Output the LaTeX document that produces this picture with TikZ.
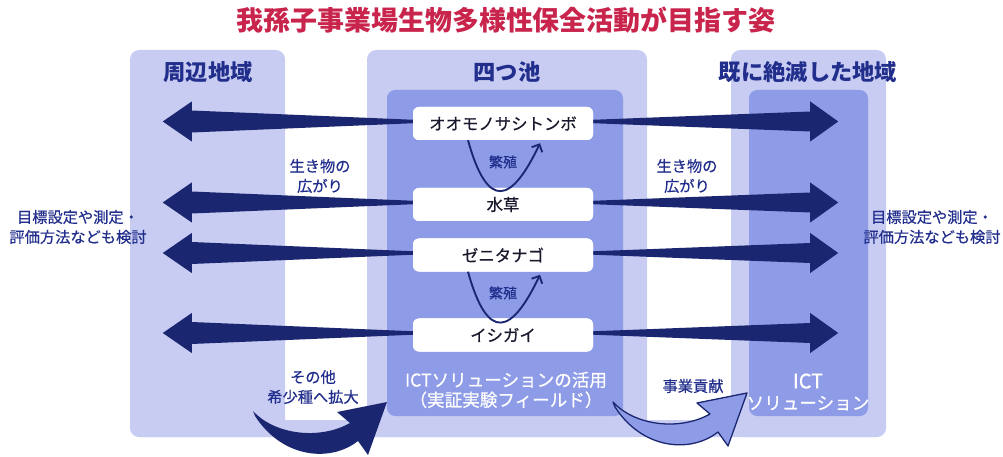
\documentclass[tikz,border=0pt]{standalone}
\usepackage{fontspec}
\setmainfont{Noto Sans CJK JP}
\newfontfamily\jpmed[FakeBold=0.5]{Noto Sans CJK JP}
\usetikzlibrary{arrows.meta,calc}
\definecolor{panel}{RGB}{200,204,242}
\definecolor{inner}{RGB}{142,156,232}
\definecolor{navy}{RGB}{27,38,112}
\definecolor{hdr}{RGB}{33,46,140}
\definecolor{ttl}{RGB}{200,36,76}
\definecolor{ntxt}{RGB}{25,25,45}
\tikzset{
  panelbox/.style={fill=panel, rounded corners=8pt},
  innerbox/.style={fill=inner, rounded corners=7pt},
  species/.style={fill=white, rounded corners=5pt, minimum width=5.4cm, minimum height=0.99cm,
    inner sep=0pt, text=ntxt, font=\jpmed\fontsize{14pt}{16pt}\selectfont},
  header/.style={inner sep=0pt, text=hdr, font=\fontsize{19pt}{22pt}\selectfont\bfseries},
  note/.style={inner sep=0pt, text=hdr, align=center, font=\jpmed\fontsize{13pt}{17pt}\selectfont},
  breed/.style={inner sep=0pt, text=hdr, font=\jpmed\fontsize{12pt}{14pt}\selectfont},
  whitenote/.style={inner sep=0pt, text=white, align=center},
  breedarrow/.style={navy, line width=1.6pt, -{Straight Barb[length=5pt,width=10pt]}},
}
\begin{document}
\begin{tikzpicture}[x=0.03cm,y=-0.03cm]
\useasboundingbox (0,0) rectangle (1003,457);
% title
\node[inner sep=0pt, text=ttl, font=\fontsize{23pt}{26pt}\selectfont\bfseries] (title) at (506,20) {我孫子事業場生物多様性保全活動が目指す姿};
% panels
\path[panelbox] (130,50) rectangle (285,437);
\path[panelbox] (367,50) rectangle (647,437);
\path[panelbox] (731,50) rectangle (886,437);
\path[panelbox] (130,420) rectangle (886,437);
\path[innerbox] (387,90) rectangle (623,416);
\path[innerbox] (749,90) rectangle (868,416);
% headers
\node[header] (h1) at (208,72) {周辺地域};
\node[header] (h2) at (507,72) {四つ池};
\node[header] (h3) at (808,72) {既に絶滅した地域};
% species nodes
\node[species] (s1) at (503,123.5) {オオモノサシトンボ};
\node[species] (s2) at (503,204.5) {水草};
\node[species] (s3) at (503,255) {ゼニタナゴ};
\node[species] (s4) at (503,335) {イシガイ};
% tapered arrows
\foreach \n in {s1,s2,s3,s4}{
  \fill[navy, shift={(\n.west)}] (6,-3.5) -- (-221,-13) -- (-221,-22) -- (-250,-2) -- (-221,18) -- (-221,9) -- (6,-0.5) -- cycle;
  \fill[navy, shift={(\n.east)}] (-6,-3.5) -- (217,-12) -- (217,-22) -- (245,-2) -- (217,18) -- (217,8) -- (-6,-0.5) -- cycle;
}
% redraw nodes above arrows
\node[species] at (s1) {オオモノサシトンボ};
\node[species] at (s2) {水草};
\node[species] at (s3) {ゼニタナゴ};
\node[species] at (s4) {イシガイ};
% breeding curves
\draw[breedarrow] ($(s1.south)+(-35,0)$) .. controls +(20,72) and +(-28,59) .. ($(s1.south)+(37,3)$);
\node[breed] (b1) at (503,162) {繁殖};
\draw[breedarrow] ($(s3.south)+(-35,0)$) .. controls +(20,72) and +(-28,59) .. ($(s3.south)+(37,3)$);
\node[breed] (b2) at (503,293) {繁殖};
% side notes
\node[note] (n1) at (320,176) {生き物の\\広がり};
\node[note] (n2) at (687,176) {生き物の\\広がり};
\node[note] (n3) at (78,227) {目標設定や測定・\\評価方法なども検討};
\node[note] (n4) at (932,227) {目標設定や測定・\\評価方法なども検討};
\node[note] (n5) at (313,387) {その他\\希少種へ拡大};
\node[note] (n6) at (693,386) {事業貢献};
\node[whitenote, font=\jpmed\fontsize{15pt}{17pt}\selectfont] (ict1) at (506,390) {ICTソリューションの活用\\（実証実験フィールド）};
\node[whitenote, font=\jpmed\fontsize{15pt}{18pt}\selectfont] (ict2) at (808,392) {{\fontsize{17pt}{18pt}\selectfont ICT}\\ソリューション};
% swoosh arrows
\fill[navy] (253,411) .. controls (275,435) and (320,440) .. (350,423) -- (337,412) -- (387,402) -- (368,455) -- (358,441) .. controls (330,463) and (282,458) .. (255,416) -- cycle;
\begin{scope}[shift={(360,-9)}]
\filldraw[fill=inner, draw=navy, line width=1.1pt, line join=round] (253,411) .. controls (275,435) and (320,440) .. (350,423) -- (337,412) -- (387,402) -- (368,455) -- (358,441) .. controls (330,463) and (282,458) .. (255,416) -- cycle;
\end{scope}
\end{tikzpicture}
\end{document}
